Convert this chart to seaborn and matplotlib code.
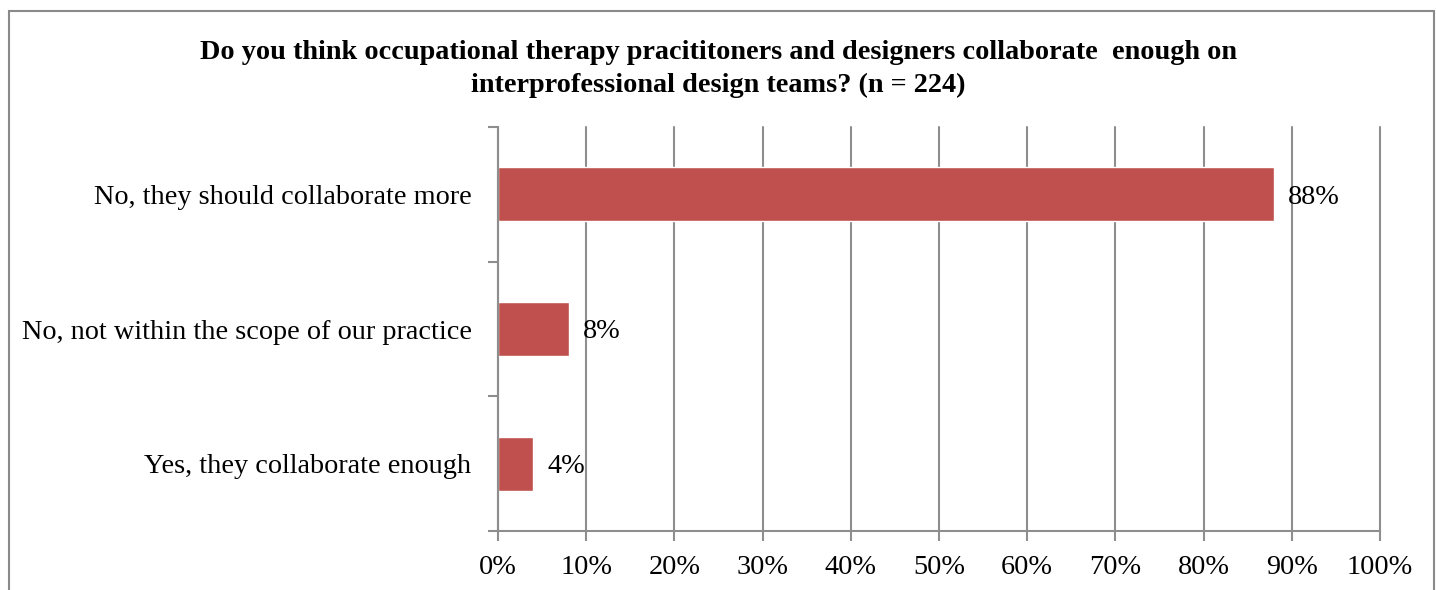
import numpy as np
import pandas as pd
import matplotlib
matplotlib.use("Agg")
import matplotlib.pyplot as plt
import seaborn as sns
from matplotlib.ticker import FixedLocator, PercentFormatter

# survey answers (n = 224)
answers = ["No, they should collaborate more",
           "No, not within the scope of our practice",
           "Yes, they collaborate enough"]
shares = [88, 8, 4]
x_ticks = [0, 10, 20, 30, 40, 50, 60, 70, 80, 90, 100]
title = ("Do you think occupational therapy pracititoners and designers collaborate  enough on\n"
         "interprofessional design teams? (n = 224)")

sns.set_theme(style="white")
plt.rcParams["font.family"] = ["Liberation Serif", "DejaVu Serif"]
grid_col = "#8e8e8e"
fs = 20.3

fig = plt.figure(figsize=(14.36, 5.9), dpi=100)
ax = fig.add_axes([0.3468, 0.1, 0.6142, 0.6847])

df = pd.DataFrame({"answer": answers, "share": shares})
sns.barplot(data=df, x="share", y="answer", orient="h", color="#C0504D",
            saturation=1, width=0.4, ax=ax)

ax.set_xlim(0, 100)
ax.set_ylim(2.5, -0.5)
ax.xaxis.set_major_locator(FixedLocator(x_ticks))
ax.xaxis.set_major_formatter(PercentFormatter(decimals=0))
ax.grid(axis="x", color=grid_col, linewidth=1.5)
for gl in ax.xaxis.get_gridlines():
    gl.set_clip_on(False)
ax.set_axisbelow(True)
ax.set_xlabel("")
ax.set_ylabel("")

for s in ["top", "right"]:
    ax.spines[s].set_visible(False)
for s in ["left", "bottom"]:
    ax.spines[s].set_color(grid_col)
    ax.spines[s].set_linewidth(1.5)

# ticks on category boundaries
ax.yaxis.set_minor_locator(FixedLocator([-0.5, 0.5, 1.5, 2.5]))
ax.tick_params(axis="y", which="major", length=0, pad=19, labelsize=fs, labelcolor="black")
ax.tick_params(axis="y", which="minor", left=True, length=7, width=1.5, color=grid_col)
ax.tick_params(axis="x", which="major", bottom=True, length=7, width=1.5,
               color=grid_col, pad=10, labelsize=fs, labelcolor="black")

for p, v in zip(ax.patches, shares):
    ax.text(p.get_width() + 1.6, p.get_y() + p.get_height() / 2 + 0.02, f"{v}%",
            va="center", ha="left", fontsize=fs, color="black")

fig.text(0.5, 0.932, title, ha="center", va="top", fontsize=fs,
         fontweight="bold", linespacing=1.4, color="black")

# chart border
fig.patches.append(plt.Rectangle((9 / 1436, -0.1), (1434 - 9) / 1436, 1.0 - 11 / 590 + 0.1,
                                 transform=fig.transFigure, fill=False,
                                 edgecolor="#8a8a8a", linewidth=1.5))

fig.savefig("out.png", dpi=100)
